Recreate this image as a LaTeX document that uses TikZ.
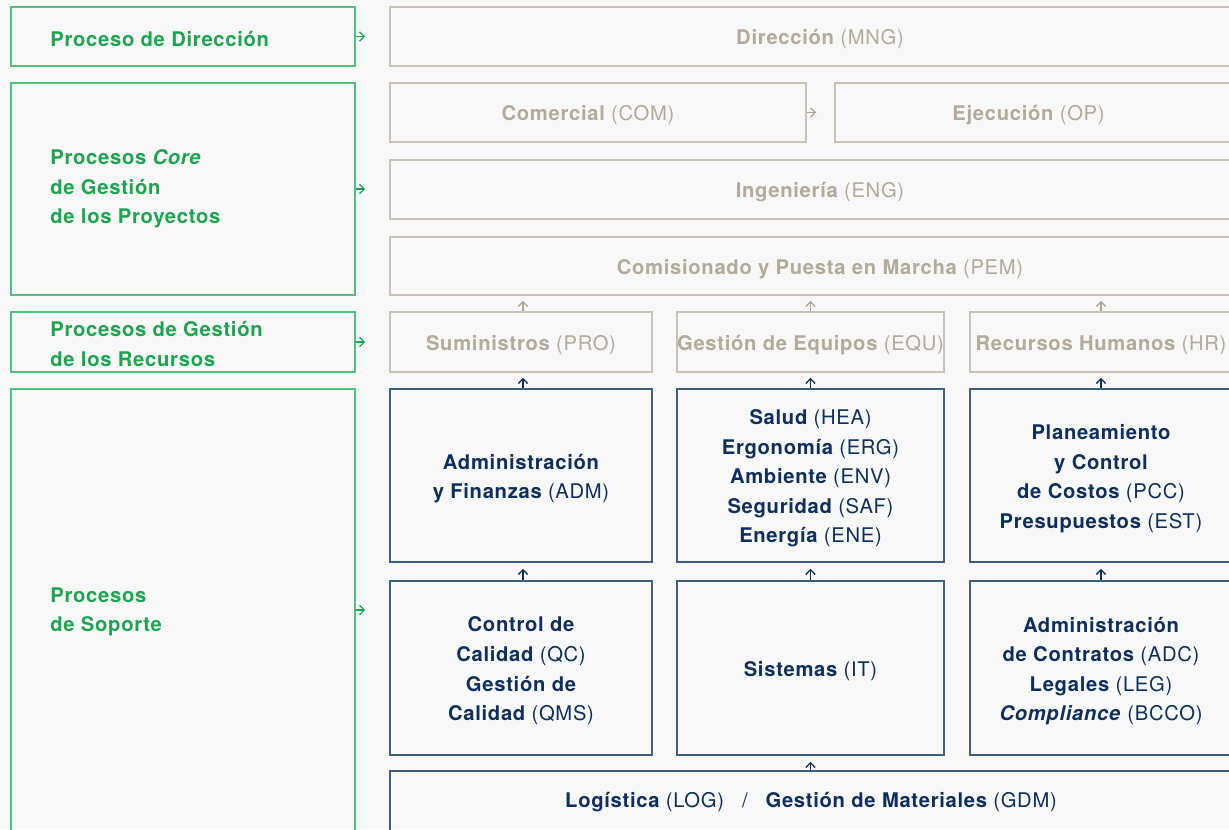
\documentclass[tikz,border=0pt]{standalone}
\usepackage{fontspec}
\setmainfont{TeX Gyre Heros}[LetterSpace=3.5]
\usetikzlibrary{arrows.meta,fit}
\definecolor{bg}{HTML}{F8F8F8}
\definecolor{gline}{HTML}{4DC17E}
\definecolor{gtext}{HTML}{1BA54E}
\definecolor{pline}{HTML}{C9C3B7}
\definecolor{ptext}{HTML}{B2AA9A}
\definecolor{parr}{HTML}{ADA595}
\definecolor{nline}{HTML}{3F5C89}
\definecolor{ntext}{HTML}{0D2E5E}
\newcommand\codeb[1]{{\mdseries (#1)}}
\begin{document}
\begin{tikzpicture}[x=0.5pt,y=-0.5pt,
  font=\fontsize{10.1}{14.8}\selectfont\bfseries,
  gbox/.style={draw=gline, line width=0.75pt, inner sep=0pt},
  glabel/.style={text=gtext, align=left, anchor=west, inner sep=0pt, yshift=-1pt},
  pbox/.style={draw=pline, line width=0.75pt, inner sep=0pt},
  nbox/.style={draw=nline, line width=0.75pt, inner sep=0pt},
  ptxt/.style={text=ptext, align=center, yshift=-1.5pt},
  ntxt/.style={text=ntext, align=center, yshift=-1.5pt},
  tipa/.style={-{Straight Barb[length=2.4pt,width=4.6pt]}, line width=0.65pt},
  garr/.style={tipa, draw=gtext},
  parrow/.style={tipa, draw=parr},
  narrow/.style={tipa, draw=ntext}]
\fill[bg] (0,0) rectangle (1229,829);
\useasboundingbox (0,0) rectangle (1229,829);
\clip (0,0) rectangle (1229,829);

% left green boxes
\node[gbox, fit={(11,7)(355,66)}] (gdir) {};
\node[gbox, fit={(11,83)(355,295)}] (gcore) {};
\node[gbox, fit={(11,312)(355,372)}] (grec) {};
\node[gbox, fit={(11,389)(355,831)}] (gsop) {};
\node[glabel] at (50,37) {Proceso de Dirección};
\node[glabel] at (50,187) {Procesos \textit{Core}\\de Gestión\\de los Proyectos};
\node[glabel] at (50,342) {Procesos de Gestión\\de los Recursos};
\node[glabel] at (50,610) {Procesos\\de Soporte};

% grey process boxes
\node[pbox, fit={(390,7)(1250,66)}] (mng) {};
\node[ptxt] at (mng.center) {Dirección \codeb{MNG}};
\node[pbox, fit={(390,83)(806,142)}] (com) {};
\node[ptxt] at ([xshift=-5pt]com.center) {Comercial \codeb{COM}};
\node[pbox, fit={(835,83)(1250,142)}] (eje) {};
\node[ptxt] at ([xshift=-7pt]eje.center) {Ejecución \codeb{OP}};
\node[pbox, fit={(390,160)(1250,219)}] (eng) {};
\node[ptxt] at (eng.center) {Ingeniería \codeb{ENG}};
\node[pbox, fit={(390,237)(1250,295)}] (pem) {};
\node[ptxt] at (pem.center) {Comisionado y Puesta en Marcha \codeb{PEM}};
\node[pbox, fit={(390,312)(652,372)}] (pro) {};
\node[ptxt] at (pro.center) {Suministros \codeb{PRO}};
\node[pbox, fit={(677,312)(944,372)}] (equ) {};
\node[ptxt] at (equ.center) {Gestión de Equipos \codeb{EQU}};
\node[pbox, fit={(970,312)(1232,372)}] (hr) {};
\node[ptxt] at (hr.center) {Recursos Humanos \codeb{HR}};

% navy support boxes
\node[nbox, fit={(390,389)(652,562)}] (adm) {};
\node[ntxt] at (adm.center) {Administración\\y Finanzas \codeb{ADM}};
\node[nbox, fit={(677,389)(944,562)}] (hea) {};
\node[ntxt] at (hea.center) {Salud \codeb{HEA}\\Ergonomía \codeb{ERG}\\Ambiente \codeb{ENV}\\Seguridad \codeb{SAF}\\Energía \codeb{ENE}};
\node[nbox, fit={(970,389)(1232,562)}] (pcc) {};
\node[ntxt] at (pcc.center) {Planeamiento\\y Control\\de Costos \codeb{PCC}\\Presupuestos \codeb{EST}};
\node[nbox, fit={(390,581)(652,755)}] (qc) {};
\node[ntxt] at (qc.center) {Control de\\Calidad \codeb{QC}\\Gestión de\\Calidad \codeb{QMS}};
\node[nbox, fit={(677,581)(944,755)}] (it) {};
\node[ntxt] at (it.center) {Sistemas \codeb{IT}};
\node[nbox, fit={(970,581)(1232,755)}] (adc) {};
\node[ntxt] at (adc.center) {Administración\\de Contratos \codeb{ADC}\\Legales \codeb{LEG}\\\textit{Compliance} \codeb{BCCO}};
\node[nbox, fit={(390,771)(1232,860)}] (log) {};
\node[ntxt] at (811,799) {Logística \codeb{LOG}\hspace{9pt}{\mdseries /}\hspace{9pt}Gestión de Materiales \codeb{GDM}};

% green arrows
\draw[garr, shorten >=12pt] (gdir.east) -- (gdir.east -| mng.west);
\draw[garr, shorten >=12pt] (gcore.east) -- (gcore.east -| eng.west);
\draw[garr, shorten >=12pt] (grec.east) -- (grec.east -| pro.west);
\draw[garr, shorten >=12pt] (gsop.east) -- (gsop.east -| qc.west);

% grey arrows
\draw[parrow, shorten >=9pt] (com.east) -- (eje.west);
\draw[parrow, shorten >=2.5pt] ([xshift=1pt]pro.north) -- ([xshift=1pt]pro.north |- pem.south);
\draw[parrow, shorten >=2.5pt] (equ.north) -- (equ.north |- pem.south);
\draw[parrow, shorten >=2.5pt] (hr.north) -- (hr.north |- pem.south);

% navy arrows
\draw[narrow, shorten >=2.5pt] ([xshift=1pt]adm.north) -- ([xshift=1pt]adm.north |- pro.south);
\draw[narrow, shorten >=2.5pt] (hea.north) -- (hea.north |- equ.south);
\draw[narrow, shorten >=2.5pt] (pcc.north) -- (pcc.north |- hr.south);
\draw[narrow, shorten >=3pt] ([xshift=1pt]qc.north) -- ([xshift=1pt]qc.north |- adm.south);
\draw[narrow, shorten >=3pt] (it.north) -- (it.north |- hea.south);
\draw[narrow, shorten >=3pt] (adc.north) -- (adc.north |- pcc.south);
\draw[narrow, shorten >=3pt] (log.north -| it.north) -- (it.south);
\end{tikzpicture}
\end{document}
